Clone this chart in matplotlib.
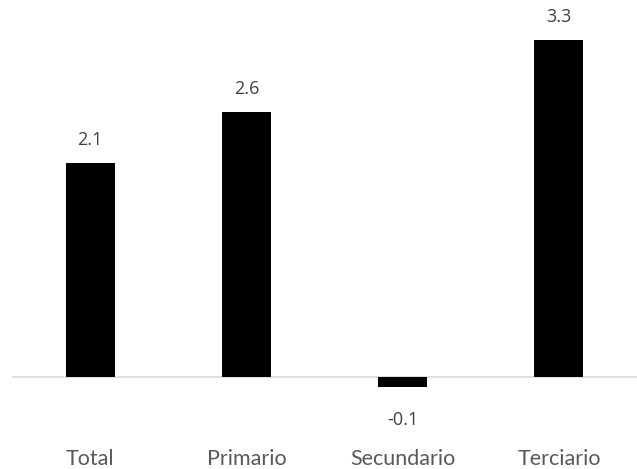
import matplotlib
matplotlib.use("Agg")
import matplotlib.pyplot as plt

# Data
categories = ["Total", "Primario", "Secundario", "Terciario"]
values = [2.1, 2.6, -0.1, 3.3]
value_labels = ["2.1", "2.6", "-0.1", "3.3"]

plt.rcParams['font.family'] = ['Lato', 'DejaVu Sans']

fig = plt.figure(figsize=(6.37, 4.69), dpi=100)
ax = fig.add_axes([12 / 637, 0, 625 / 637, 1])

x = list(range(len(categories)))
ax.bar(x, values, width=0.315, color="black", zorder=2)
ax.axhline(0, color="#d9d9d9", linewidth=1.2, zorder=1)

ax.set_xlim(-0.5, 3.5)
ax.set_ylim(-0.902, 3.696)

for xi, v, lab in zip(x, values, value_labels):
    y = v + 0.225 if v >= 0 else v - 0.32
    ax.text(xi, y, lab, ha="center", va="center", fontsize=13,
            color="#404040", family=["Open Sans", "DejaVu Sans"])

for xi, cat in zip(x, categories):
    ax.text(xi, -0.80, cat, ha="center", va="center",
            fontsize=15.5, color="#595959")

ax.axis("off")
fig.savefig("out.png", dpi=100)
